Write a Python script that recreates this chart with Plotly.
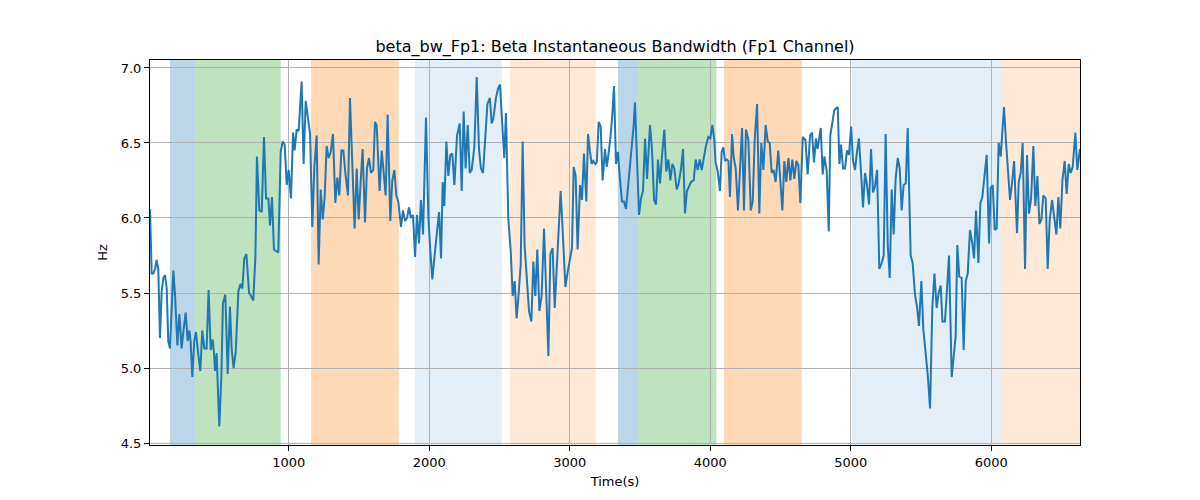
import plotly.graph_objects as go

# Time (s) and beta bandwidth (Hz)
time_s = [13, 25, 37, 49, 60, 72, 84, 96, 108, 120, 132, 143, 155, 167, 179, 191, 208, 222, 238, 250,
          267, 281, 293, 302, 314, 328, 340, 357, 371, 385, 400, 416, 430, 445, 459, 468, 476, 487, 506, 521,
          532, 549, 566, 582, 594, 608, 623, 642, 656, 670, 684, 699, 718, 732, 748, 763, 774, 791,
          808, 824, 839, 855, 867, 881, 895, 910, 926, 943, 957, 971, 986, 1000, 1016, 1031, 1042, 1057, 1071,
          1092, 1106, 1121, 1135, 1152, 1168, 1182, 1199, 1213, 1228, 1242, 1256, 1270, 1284, 1299, 1315, 1332,
          1346, 1360, 1375, 1389, 1403, 1422, 1436, 1455, 1469, 1484, 1498, 1512, 1526, 1543, 1557, 1571, 1586, 1602,
          1614, 1626, 1647, 1662, 1676, 1690, 1704, 1723, 1737, 1752, 1766, 1780, 1799, 1813, 1828, 1842, 1856,
          1870, 1885, 1899, 1913, 1927, 1941, 1956, 1977, 1994, 2008, 2022, 2036, 2053, 2070, 2084, 2096, 2107,
          2122, 2136, 2150, 2164, 2179, 2198, 2217, 2231, 2245, 2259, 2274, 2288, 2302, 2321, 2338, 2354, 2368,
          2383, 2397, 2414,
          2432, 2444, 2456, 2475, 2489, 2504, 2518, 2534, 2546, 2563, 2580, 2594, 2608, 2622, 2636, 2651, 2665,
          2679, 2693, 2710, 2727, 2741, 2755, 2769, 2784, 2800, 2817, 2833, 2848, 2862, 2878, 2893, 2907, 2921,
          2935, 2950, 2969, 2985, 3002, 3016, 3028, 3042, 3056, 3073, 3087, 3101, 3118, 3130, 3144, 3156, 3168,
          3182, 3192, 3206, 3220, 3234,
          3251, 3263, 3275, 3289, 3303, 3315, 3329, 3343, 3358, 3372, 3386, 3400, 3412, 3426, 3441, 3455, 3464,
          3479, 3493, 3507, 3521, 3536, 3550, 3571, 3585, 3600, 3614, 3628, 3642, 3657, 3673, 3687, 3702, 3716,
          3730, 3744, 3761, 3775, 3792, 3806, 3820, 3834, 3849, 3863, 3882, 3896, 3910, 3925, 3939, 3953, 3967,
          3986, 4000, 4015, 4029, 4038, 4053,
          4069, 4081, 4093, 4105, 4117, 4129, 4140, 4155, 4167, 4181, 4197, 4212, 4226, 4240, 4254, 4271, 4288,
          4302, 4316, 4333, 4349, 4363, 4378, 4394, 4409, 4423, 4437, 4451, 4465, 4484, 4496, 4513, 4527, 4541,
          4556, 4570, 4584, 4598, 4613, 4627, 4641, 4658, 4677, 4693, 4710, 4724, 4738, 4752, 4764, 4774, 4786,
          4800, 4812, 4828, 4843, 4854, 4869, 4883,
          4907, 4919, 4930, 4945, 4959, 4973, 4987, 5002, 5016, 5030, 5044, 5058, 5073, 5087, 5101, 5115, 5130,
          5144, 5158, 5172, 5187, 5203, 5220, 5234, 5248, 5263, 5277, 5291, 5305, 5319, 5334, 5348, 5362, 5376,
          5391, 5405, 5426, 5440, 5457, 5471, 5485, 5502, 5516, 5533, 5547, 5564, 5580, 5595, 5611, 5625, 5640,
          5652, 5670, 5685, 5699,
          5718, 5735, 5746, 5758, 5772, 5789, 5803, 5818, 5832, 5848, 5863, 5877, 5891, 5908, 5922, 5936, 5953,
          5967, 5984, 5995, 6010, 6024, 6038, 6052, 6067, 6074, 6090, 6105, 6119, 6133, 6147, 6162, 6176, 6183,
          6195, 6209, 6223, 6240, 6254, 6268, 6283, 6299, 6313, 6328, 6342, 6356, 6370, 6387, 6401, 6415, 6432,
          6446, 6463, 6477, 6491, 6506, 6522, 6536, 6551, 6565, 6579, 6598, 6612, 6631]

bandwidth_hz = [6.06, 5.63, 5.63, 5.66, 5.72, 5.66, 5.20, 5.51, 5.60, 5.62, 5.53, 5.18, 5.13, 5.38, 5.65, 5.49, 5.15, 5.36, 5.13, 5.24,
                5.37, 5.18, 5.25, 5.18, 4.94, 5.18, 5.24, 5.09, 4.98, 5.25, 5.13, 5.13, 5.52, 5.12, 5.19, 5.10, 4.98, 5.10, 4.61, 4.95,
                5.43, 5.49, 4.96, 5.41, 5.13, 5.00, 5.11, 5.51, 5.56, 5.53, 5.73, 5.76, 5.50, 5.48, 5.45, 5.74, 6.41, 6.05,
                6.04, 6.54, 6.13, 6.13, 5.95, 6.14, 5.79, 5.78, 5.77, 6.44, 6.51, 6.49, 6.22, 6.32, 6.13, 6.57, 6.45, 6.59, 6.58,
                6.91, 6.36, 6.78, 6.69, 6.56, 5.94, 6.33, 6.55, 5.69, 6.19, 5.99, 6.14, 6.48, 6.40, 6.44, 6.56, 6.10,
                6.27, 6.15, 6.45, 6.45, 6.30, 6.15, 6.80, 6.29, 5.93, 6.33, 5.99, 6.24, 6.46, 5.97, 6.33, 6.40, 6.30, 6.32,
                6.64, 6.62, 6.18, 6.45, 6.32, 6.15, 6.69, 5.98, 6.25, 6.32, 6.15, 6.11, 5.94, 6.05, 5.98, 6.00, 6.07,
                6.00, 6.02, 5.74, 6.02, 5.83, 6.12, 5.89, 6.67, 6.00, 5.78, 5.59, 5.73, 5.91, 6.04, 5.73, 6.24, 6.08,
                6.51, 6.28, 6.42, 6.43, 6.22, 6.55, 6.63, 6.18, 6.71, 6.33, 6.62, 6.30, 6.32, 6.47, 6.94, 6.46, 6.33,
                6.30, 6.52, 6.76,
                6.80, 6.63, 6.66, 6.80, 6.86, 6.89, 6.65, 6.40, 6.70, 5.99, 5.78, 5.48, 5.58, 5.33, 5.49, 5.69, 6.51,
                5.81, 5.62, 5.38, 5.31, 5.71, 5.48, 5.79, 5.38, 5.48, 5.93, 5.41, 5.08, 5.76, 5.80, 5.40, 5.66, 5.94,
                6.18, 5.91, 5.54, 5.64, 5.73, 5.80, 6.34, 6.28, 5.79, 6.22, 6.12, 6.43, 6.11, 6.56, 6.44, 6.36, 6.38,
                6.36, 6.37, 6.64, 6.61, 6.25,
                6.46, 6.34, 6.42, 6.53, 6.69, 6.88, 6.36, 6.44, 6.25, 6.11, 6.11, 6.06, 6.18, 6.31, 6.46, 6.62, 6.77,
                6.35, 6.02, 6.13, 6.18, 6.53, 6.26, 6.62, 6.46, 6.12, 6.09, 6.39, 6.23, 6.42, 6.59, 6.31, 6.39, 6.25,
                6.36, 6.33, 6.19, 6.23, 6.33, 6.46, 6.03, 6.18, 6.21, 6.24, 6.25, 6.39, 6.32, 6.39, 6.32, 6.41, 6.47,
                6.54, 6.53, 6.62, 6.52, 6.37, 6.31,
                6.18, 6.44, 6.47, 6.38, 6.39, 6.38, 6.14, 6.56, 6.40, 6.33, 6.05, 6.31, 6.60, 6.05, 6.59, 6.52, 6.05,
                6.11, 6.52, 6.76, 6.03, 6.50, 6.32, 6.62, 6.51, 6.50, 6.30, 6.32, 6.24, 6.45, 6.26, 6.05, 6.38, 6.24,
                6.40, 6.25, 6.39, 6.26, 6.38, 6.35, 6.10, 6.54, 6.52, 6.29, 6.55, 6.57, 6.37, 6.53, 6.46, 6.53, 6.60,
                6.29, 6.41, 6.32, 5.91, 6.55, 6.63, 6.72,
                6.74, 6.36, 6.49, 6.33, 6.33, 6.45, 6.42, 6.61, 6.38, 6.32, 6.44, 6.53, 6.30, 6.07, 6.30, 6.22, 6.09,
                6.46, 6.17, 6.21, 6.32, 5.66, 5.70, 5.75, 6.56, 5.82, 5.60, 6.19, 5.89, 6.26, 6.40, 6.33, 6.05, 6.22,
                6.23, 6.60, 5.75, 5.70, 5.49, 5.41, 5.28, 5.58, 5.26, 5.11, 4.96, 4.73, 5.40, 5.63, 5.40, 5.50, 5.55,
                5.31, 5.31, 5.53, 5.75,
                4.94, 5.08, 5.21, 5.82, 5.61, 5.60, 5.12, 5.58, 5.63, 5.92, 5.84, 5.73, 6.05, 5.70, 6.10, 6.14, 6.29,
                6.42, 5.83, 6.20, 6.22, 5.92, 5.93, 6.50, 6.41, 6.52, 6.74, 6.50, 6.30, 6.12, 6.23, 6.38, 6.05, 5.90,
                6.24, 6.30, 6.50, 5.66, 6.42, 6.03, 6.13, 6.48, 6.08, 6.28, 5.96, 5.99, 6.15, 6.13, 5.66, 5.98, 6.12,
                6.03, 5.89, 6.14, 5.93, 6.25, 6.38, 6.16, 6.36, 6.30, 6.34, 6.57, 6.32, 6.46]

# Shaded segments: start, end, colour, opacity
span_start = [155, 338, 1159, 1899, 2575, 3343, 3488, 4098, 5007, 6069]
span_end = [338, 943, 1783, 2516, 3185, 3488, 4043, 4651, 6069, 6700]
span_color = ["#1f77b4", "#2ca02c", "#ff7f0e", "#1f77b4", "#ff7f0e",
              "#1f77b4", "#2ca02c", "#ff7f0e", "#1f77b4", "#ff7f0e"]
span_alpha = [0.3, 0.3, 0.3, 0.12, 0.17, 0.3, 0.3, 0.3, 0.12, 0.17]

x_ticks = [1000, 2000, 3000, 4000, 5000, 6000]
y_ticks = [4.5, 5.0, 5.5, 6.0, 6.5, 7.0]

fig = go.Figure()

for s, e, c, a in zip(span_start, span_end, span_color, span_alpha):
    fig.add_vrect(x0=s, x1=e, fillcolor=c, opacity=a, line_width=0, layer="below")

fig.add_trace(go.Scatter(x=time_s, y=bandwidth_hz, mode="lines",
                         line=dict(color="#1f77b4", width=2), showlegend=False))

axis_common = dict(showline=True, linecolor="black", linewidth=1, mirror=True,
                   ticks="outside", ticklen=5, tickcolor="black",
                   showgrid=True, gridcolor="#b0b0b0", gridwidth=1, zeroline=False,
                   tickfont=dict(family="DejaVu Sans", size=13, color="black"))

fig.update_xaxes(range=[13, 6631], tickvals=x_ticks,
                 title=dict(text="Time(s)", font=dict(family="DejaVu Sans", size=13, color="black"), standoff=8),
                 **axis_common)
fig.update_yaxes(range=[4.487, 7.053], tickvals=y_ticks, ticktext=[f"{v:.1f}" for v in y_ticks],
                 title=dict(text="Hz", font=dict(family="DejaVu Sans", size=13, color="black"), standoff=10),
                 **axis_common)

fig.update_layout(
    width=1200, height=500,
    margin=dict(l=142, r=128, t=52, b=63),
    paper_bgcolor="white", plot_bgcolor="white",
    title=dict(text="beta_bw_Fp1: Beta Instantaneous Bandwidth (Fp1 Channel)",
               x=0.5, xref="paper", xanchor="center",
               y=1 - 38 / 500, yref="container", yanchor="middle",
               font=dict(family="DejaVu Sans", size=16, color="black")),
)

fig.write_html("out.html")
